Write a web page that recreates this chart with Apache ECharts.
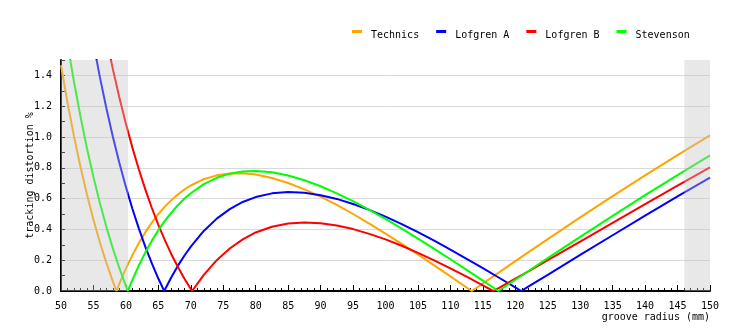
<!DOCTYPE html>
<html>
<head>
<meta charset="utf-8">
<script src="https://cdn.jsdelivr.net/npm/echarts@6/dist/echarts.min.js"></script>
<style>
html,body{margin:0;padding:0;background:#fff;}
#chart{width:740px;height:330px;}
</style>
</head>
<body>
<div id="chart"></div>
<script>
// groove radius sample points (mm)
const radius = [50,51,52,53,54,55,56,57,58,59,60,61,62,63,64,65,66,67,68,69,70,
  72,74,76,78,80,
  82.5,85,87.5,90,92.5,95,97.5,100,102.5,105,107.5,110,112.5,115,117.5,120,122.5,
  125,130,135,140,145,150];

// tracking distortion %
const technics = [1.466,1.224,1.005,0.807,0.626,0.463,0.315,0.182,0.061,0.048,0.145,0.233,0.312,0.382,0.444,0.499,0.548,0.590,0.627,0.658,0.685,
  0.726,0.751,0.763,0.764,0.756,
  0.734,0.701,0.660,0.613,0.559,0.500,0.438,0.373,0.306,0.237,0.166,0.095,0.023,0.049,0.121,0.194,0.265,
  0.337,0.478,0.616,0.751,0.882,1.010];
const lofgrenA = [3.053,2.711,2.398,2.111,1.848,1.608,1.387,1.185,1.000,0.831,0.676,0.534,0.405,0.286,0.179,0.081,0.009,0.089,0.163,0.229,0.288,
  0.390,0.470,0.532,0.578,0.610,
  0.634,0.643,0.638,0.622,0.598,0.565,0.527,0.483,0.434,0.382,0.327,0.269,0.209,0.148,0.086,0.023,0.041,
  0.105,0.234,0.362,0.489,0.614,0.736];
const lofgrenB = [3.643,3.278,2.944,2.636,2.354,2.096,1.858,1.639,1.439,1.255,1.086,0.931,0.789,0.658,0.539,0.430,0.330,0.239,0.157,0.081,0.013,
  0.105,0.200,0.276,0.335,0.380,
  0.417,0.438,0.445,0.440,0.425,0.402,0.371,0.335,0.294,0.248,0.199,0.147,0.093,0.037,0.021,0.080,0.139,
  0.200,0.321,0.443,0.564,0.684,0.802];
const stevenson = [1.880,1.607,1.359,1.133,0.927,0.740,0.570,0.415,0.275,0.148,0.032,0.072,0.166,0.251,0.327,0.395,0.455,0.509,0.557,0.599,0.635,
  0.694,0.735,0.762,0.776,0.779,
  0.771,0.750,0.719,0.680,0.634,0.583,0.527,0.468,0.405,0.340,0.274,0.206,0.137,0.067,0.003,0.073,0.143,
  0.213,0.352,0.488,0.622,0.753,0.880];

// null points (radius where distortion is zero)
const technicsNulls = [58.55, 113.3];
const lofgrenANulls = [65.9, 120.9];
const lofgrenBNulls = [70.2, 116.6];
const stevensonNulls = [60.3, 117.4];

const seriesNames = ['Technics', 'Lofgren A', 'Lofgren B', 'Stevenson'];
const seriesColors = ['#ffa500', '#0000ff', '#ff0000', '#00ff00'];

// shaded ranges outside the IEC groove area
const shadedRanges = [[50, 60.325], [146.05, 150]];

const yTickLabels = ['0.0','','0.2','','0.4','','0.6','','0.8','','1.0','','1.2','','1.4',''];

function buildData(values, nulls) {
  const pts = radius.map((r, i) => [r, values[i]]);
  nulls.forEach(r => pts.push([r, 0]));
  pts.sort((a, b) => a[0] - b[0]);
  return pts;
}

const allValues = [technics, lofgrenA, lofgrenB, stevenson];
const allNulls = [technicsNulls, lofgrenANulls, lofgrenBNulls, stevensonNulls];

const font = 'DejaVu Sans Mono';

const series = seriesNames.map((name, i) => ({
  name: name,
  type: 'line',
  data: buildData(allValues[i], allNulls[i]),
  showSymbol: false,
  symbol: 'none',
  clip: true,
  color: seriesColors[i],
  lineStyle: { width: 2, color: seriesColors[i] },
  z: 3 + i,
  animation: false
}));

series[0].markArea = {
  silent: true,
  z: 20,
  itemStyle: { color: 'rgba(197,197,197,0.39)', borderWidth: 0 },
  data: shadedRanges.map(s => [{ xAxis: s[0] }, { xAxis: s[1] }])
};

const chart = echarts.init(document.getElementById('chart'), null, { renderer: 'canvas' });
chart.setOption({
  animation: false,
  backgroundColor: '#ffffff',
  textStyle: { fontFamily: font, fontSize: 10, color: '#000' },
  legend: {
    left: 347,
    top: 25,
    itemWidth: 10,
    itemHeight: 11,
    itemGap: 17,
    icon: 'path://M0,0H10V3H0Z M0,11H0.01',
    textStyle: { fontFamily: font, fontSize: 10, color: '#000', padding: [0, 0, 0, 4] },
    data: seriesNames
  },
  grid: { left: 61, right: 30, top: 60, bottom: 39, containLabel: false },
  xAxis: {
    type: 'value',
    min: 50,
    max: 150,
    interval: 5,
    name: 'groove radius (mm)',
    nameLocation: 'end',
    nameGap: 0,
    nameMoveOverlap: false,
    nameTextStyle: { fontFamily: font, fontSize: 10, color: '#000', align: 'right', verticalAlign: 'top', padding: [21, 0, 0, 0] },
    axisLine: { show: true, onZero: false, lineStyle: { color: '#000', width: 2 } },
    axisTick: { show: true, inside: true, length: 6, lineStyle: { color: '#000' } },
    minorTick: { show: true, splitNumber: 5, length: 3, lineStyle: { color: '#000' } },
    axisLabel: { fontFamily: font, fontSize: 10, color: '#000', margin: 10 },
    splitLine: { show: false }
  },
  yAxis: {
    type: 'value',
    min: 0,
    max: 1.5,
    interval: 0.1,
    name: 'tracking distortion %',
    nameLocation: 'middle',
    nameGap: 26,
    nameMoveOverlap: false,
    nameRotate: 90,
    nameTextStyle: { fontFamily: font, fontSize: 10, color: '#000' },
    axisLine: { show: true, onZero: false, lineStyle: { color: '#000', width: 2 } },
    axisTick: { show: true, inside: true, length: 4, lineStyle: { color: '#000' } },
    axisLabel: {
      fontFamily: font, fontSize: 10, color: '#000', margin: 9,
      formatter: (v) => yTickLabels[Math.round(v * 10)] || ''
    },
    splitLine: { show: true, lineStyle: { color: ['#d9d9d9', 'rgba(0,0,0,0)'], width: 1 } }
  },
  series: series
});
</script>
</body>
</html>
